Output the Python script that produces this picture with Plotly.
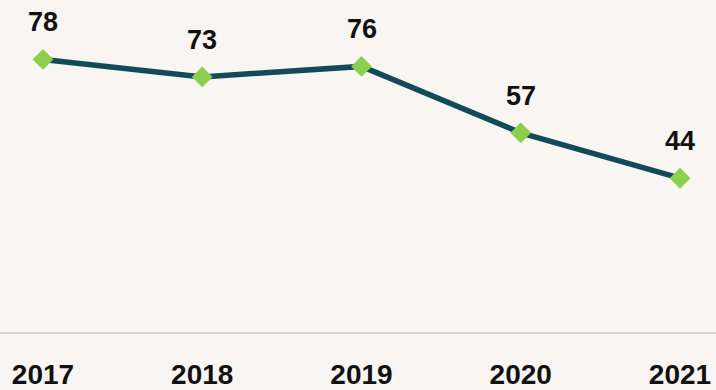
import plotly.graph_objects as go

years = ["2017", "2018", "2019", "2020", "2021"]
values = [78, 73, 76, 57, 44]

line_color = "#124a5a"
marker_color = "#8ccf4d"
bg = "#f8f5f3"
font_family = "Liberation Sans, Arial, sans-serif"

fig = go.Figure()
fig.add_trace(go.Scatter(
    x=years,
    y=values,
    mode="lines+markers",
    line=dict(color=line_color, width=5.5),
    marker=dict(symbol="diamond", size=16, color=marker_color),
    cliponaxis=False,
    hoverinfo="skip",
))

# value labels above each point (category axis: x given by index)
for i, v in enumerate(values):
    fig.add_annotation(
        x=i, y=v, text=str(v), showarrow=False,
        yanchor="bottom", yshift=20,
        font=dict(family=font_family, size=27, color="#111111", weight="bold"),
    )

fig.update_layout(
    width=716, height=390,
    margin=dict(l=0, r=0, t=0, b=55),
    paper_bgcolor=bg, plot_bgcolor=bg,
    showlegend=False,
    xaxis=dict(
        type="category", range=[-0.27, 4.226],
        showgrid=False, zeroline=False,
        showline=True, linecolor="#d8d6d4", linewidth=2,
        ticks="", ticklabelstandoff=16,
        tickfont=dict(family=font_family, size=28, color="#111111", weight="bold"),
    ),
    yaxis=dict(
        range=[0, 95.0], visible=False, showgrid=False, zeroline=False,
    ),
)

fig.write_html("out.html")
